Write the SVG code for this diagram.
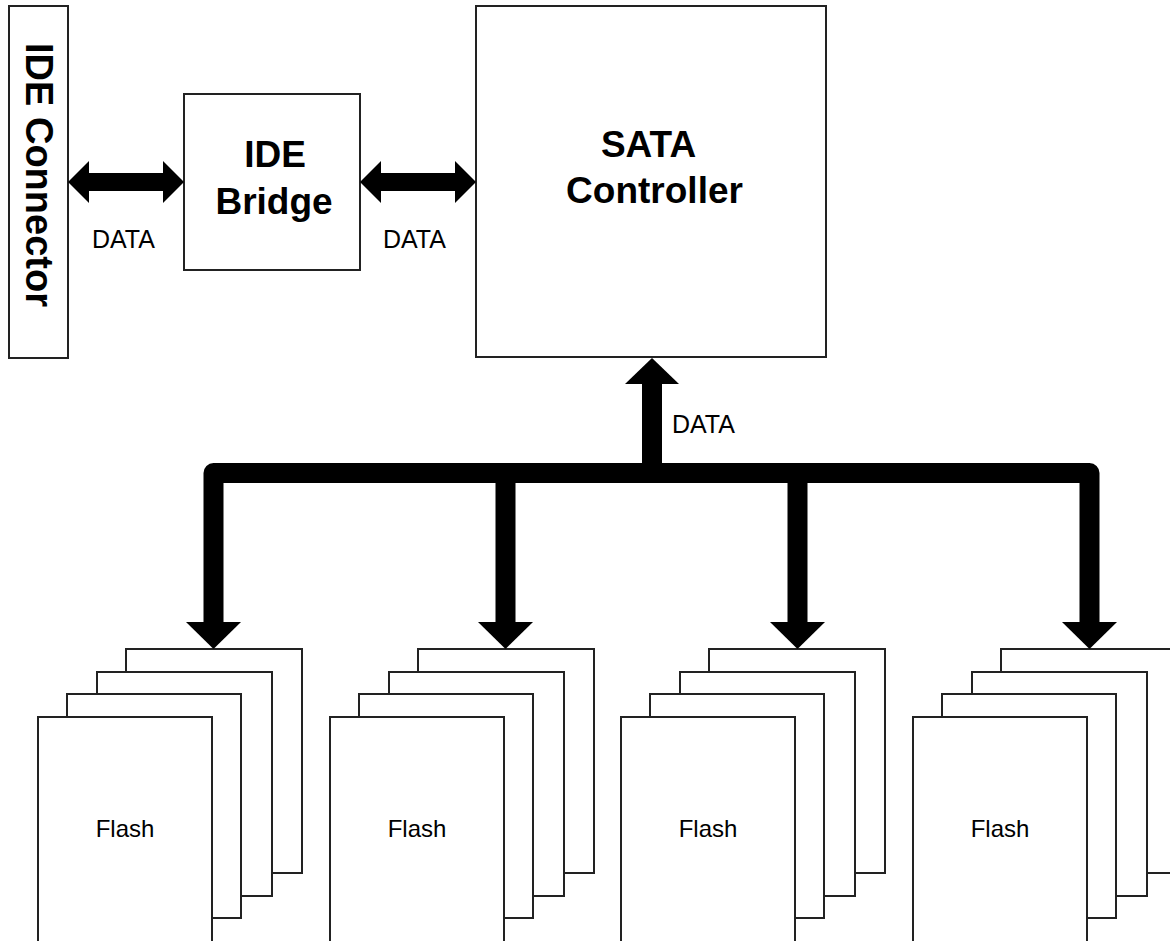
<svg xmlns="http://www.w3.org/2000/svg" width="1170" height="941" viewBox="0 0 1170 941">
<style>
.box{fill:#fff;stroke:#222;stroke-width:2}
.bold{font-family:"Liberation Sans",Arial,sans-serif;font-weight:bold;font-size:37px;fill:#000;text-anchor:middle}
.lbl{font-family:"Liberation Sans",Arial,sans-serif;font-size:25px;fill:#000}
.flash{font-family:"Liberation Sans",Arial,sans-serif;font-size:24px;fill:#000;text-anchor:middle}
.bus{fill:none;stroke:#000;stroke-width:20;stroke-linejoin:round}
.head{fill:#000}
</style>
<defs>
<g id="stack">
<rect class="box" x="88" y="0" width="176" height="224"/>
<rect class="box" x="59" y="23" width="175" height="224"/>
<rect class="box" x="29" y="45" width="174" height="224"/>
<rect class="box" x="0" y="68" width="174" height="240"/>
</g>
</defs>
<rect width="1170" height="941" fill="#fff"/>
<g id="ide-connector">
<rect class="box" x="9" y="6" width="59" height="352"/>
<text class="bold" font-size="38" transform="translate(26,175) rotate(90)" style="font-size:38px">IDE Connector</text>
</g>
<g id="ide-bridge">
<rect class="box" x="184" y="94" width="176" height="176"/>
<text class="bold" x="275" y="167">IDE</text>
<text class="bold" x="274" y="214">Bridge</text>
</g>
<g id="sata-controller">
<rect class="box" x="476" y="6" width="350" height="351"/>
<text class="bold" x="648.5" y="157">SATA</text>
<text class="bold" x="654.5" y="203">Controller</text>
</g>
<g id="flash1"><use href="#stack" x="38" y="649"/><text class="flash" x="125" y="837">Flash</text></g>
<g id="flash2"><use href="#stack" x="330" y="649"/><text class="flash" x="417" y="837">Flash</text></g>
<g id="flash3"><use href="#stack" x="621" y="649"/><text class="flash" x="708" y="837">Flash</text></g>
<g id="flash4"><use href="#stack" x="913" y="649"/><text class="flash" x="1000" y="837">Flash</text></g>
<g id="connectors">
<rect x="86" y="173" width="80" height="18" fill="#000"/>
<polygon class="head" points="68,182 89,161 89,203"/>
<polygon class="head" points="184,182 163,161 163,203"/>
<rect x="378" y="173" width="80" height="18" fill="#000"/>
<polygon class="head" points="360,182 381,161 381,203"/>
<polygon class="head" points="476,182 455,161 455,203"/>
<text class="lbl" x="92" y="248">DATA</text>
<text class="lbl" x="383" y="248">DATA</text>
<path class="bus" d="M213.5,624 V473 H1089.5 V624"/>
<line x1="505.5" y1="473" x2="505.5" y2="624" stroke="#000" stroke-width="20"/>
<line x1="797.5" y1="473" x2="797.5" y2="624" stroke="#000" stroke-width="20"/>
<line x1="652" y1="473" x2="652" y2="382" stroke="#000" stroke-width="20"/>
<polygon class="head" points="625,384 679,384 652,358"/>
<text class="lbl" x="672" y="433">DATA</text>
<polygon class="head" points="186,622 241,622 213.5,649"/>
<polygon class="head" points="478,622 533,622 505.5,649"/>
<polygon class="head" points="770,622 825,622 797.5,649"/>
<polygon class="head" points="1062,622 1117,622 1089.5,649"/>
</g>
</svg>
